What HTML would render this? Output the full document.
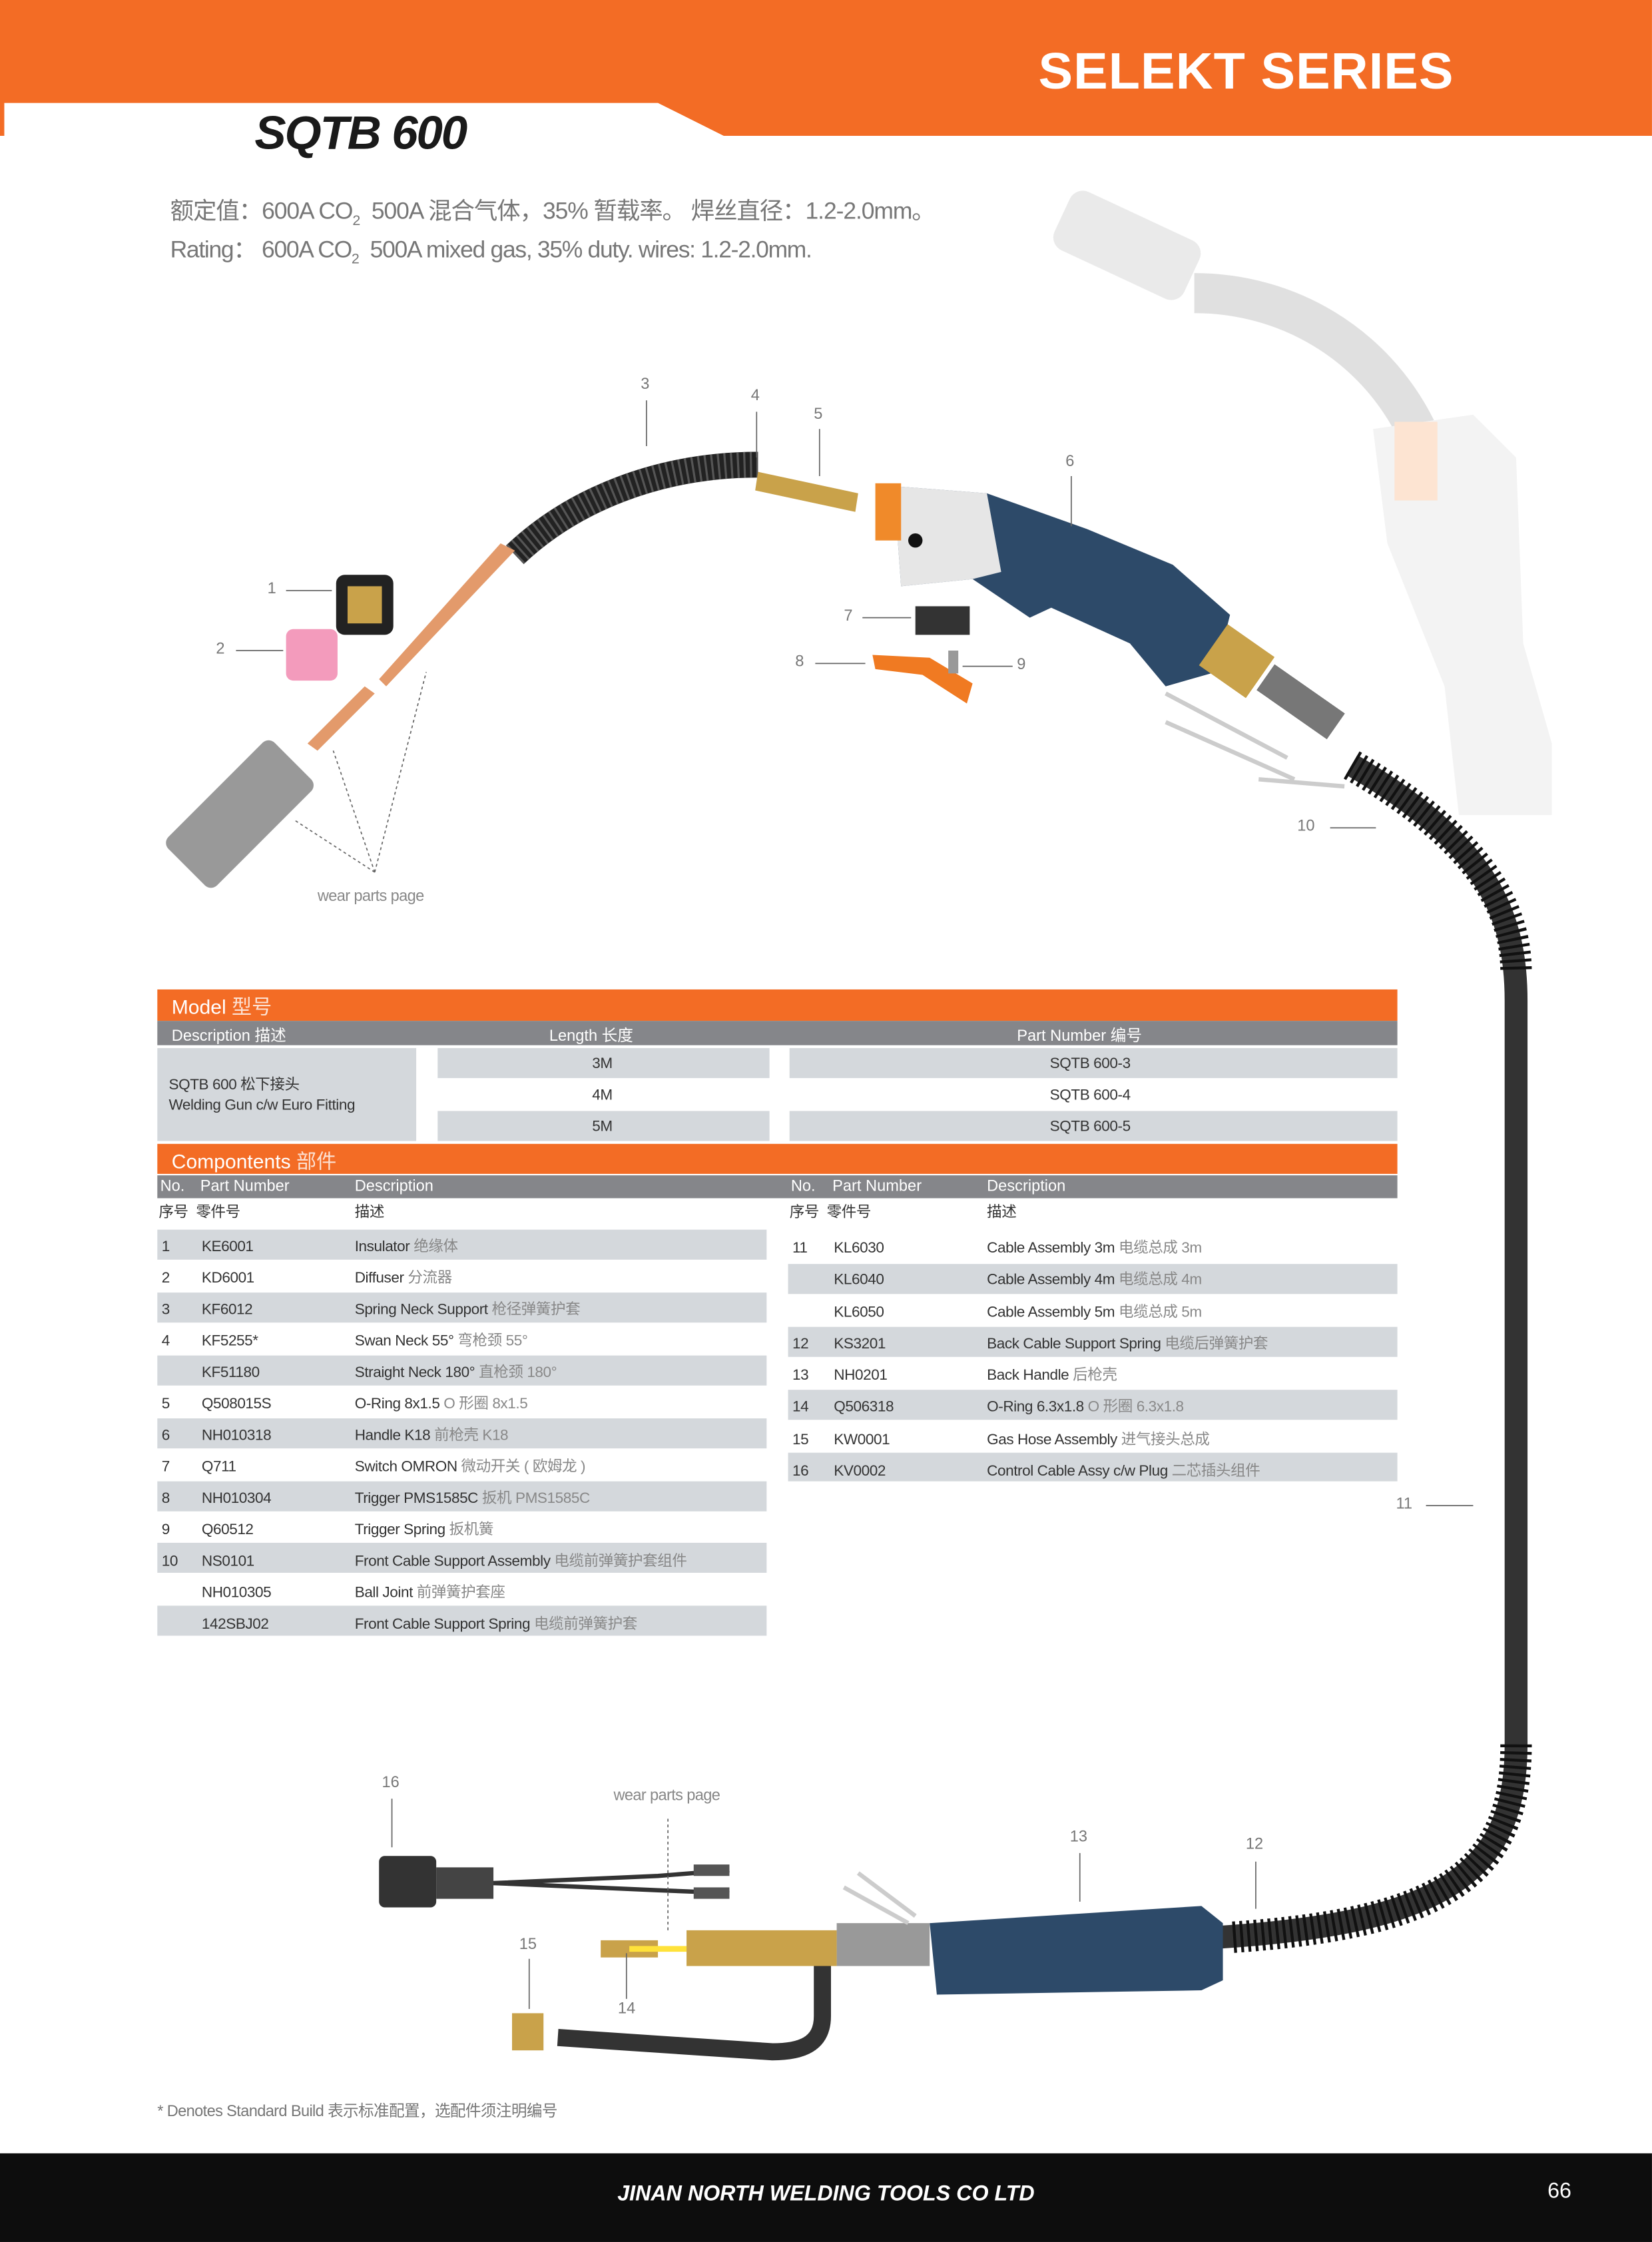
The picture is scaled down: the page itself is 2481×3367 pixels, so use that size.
<!DOCTYPE html>
<html><head><meta charset="utf-8">
<style>
html,body{margin:0;padding:0;background:#fff;}
body{width:2481px;height:3367px;overflow:hidden;position:relative;}
#p{position:absolute;left:0;top:0;width:1155px;height:1568px;transform:scale(2.148,2.1473);transform-origin:0 0;font-family:"Liberation Sans","Noto Sans CJK SC",sans-serif;}
.a{position:absolute;white-space:nowrap;}
.t{font-size:10.5px;color:#333;letter-spacing:-0.2px;}
.g{color:#888;}
.r{position:absolute;height:21px;background:#d4d8dc;}
.hd{position:absolute;background:#85868a;color:#fff;font-size:11px;}
.ob{position:absolute;background:#f36c25;color:#fff;font-size:14px;}
.n{font-size:11px;color:#777;}
</style></head><body><div id="p">
<div style="position:absolute;left:0;top:0;width:1155px;height:95px;background:#f36c25"></div>
<svg class="a" style="left:0;top:0" width="1155" height="96"><polygon points="3,72 460,72 508,96 3,96" fill="#fff"/></svg>
<div class="a" style="left:726px;top:29px;font-size:36px;font-weight:bold;color:#fff;letter-spacing:0.5px">SELEKT SERIES</div>
<div class="a" style="left:178px;top:74px;font-size:33px;font-weight:bold;font-style:italic;color:#1a1a1a;letter-spacing:-1px">SQTB 600</div>
<div class="a" style="left:119px;top:134px;font-size:16.5px;color:#777;letter-spacing:-0.5px">额定值：600A CO<sub style="font-size:10px">2</sub>&nbsp; 500A 混合气体，35% 暂载率。 焊丝直径：1.2-2.0mm。</div>
<div class="a" style="left:119px;top:161px;font-size:16.5px;color:#777;letter-spacing:-0.6px">Rating： 600A CO<sub style="font-size:10px">2</sub>&nbsp; 500A mixed gas, 35% duty. wires: 1.2-2.0mm.</div>

<svg class="a" style="left:0;top:0" width="1155" height="1568">
 <g opacity="0.3">
  <rect x="738" y="150" width="100" height="45" rx="10" fill="#bbb" transform="rotate(25 790 172)"/>
  <path d="M835,205 C900,205 960,240 990,300" stroke="#999" stroke-width="28" fill="none"/>
  <path d="M960,300 L1030,290 L1060,320 L1065,450 L1085,520 L1085,570 L1020,570 L1010,480 L970,380 Z" fill="#d6d6d6"/>
  <rect x="975" y="295" width="30" height="55" fill="#f9a56b"/>
 </g>
 <path d="M360,388 C400,350 460,325 530,325" stroke="#222" stroke-width="18" fill="none"/>
 <path d="M360,388 C400,350 460,325 530,325" stroke="#555" stroke-width="18" stroke-dasharray="1.5 3" fill="none"/>
 <polygon points="530,330 600,345 598,358 528,343" fill="#c9a24a"/>
 <path d="M625,340 L690,345 L760,370 L820,395 L860,430 L850,470 L815,480 L790,450 L735,425 L720,432 L680,405 L630,410 Z" fill="#2d4a69"/>
 <path d="M625,340 L690,345 L700,400 L680,405 L630,410 Z" fill="#e6e6e6"/>
 <rect x="612" y="338" width="18" height="40" fill="#f08a2a"/>
 <circle cx="640" cy="378" r="5" fill="#111"/>
 <rect x="640" y="424" width="38" height="20" fill="#333"/>
 <path d="M610,458 L650,460 L680,478 L676,492 L645,472 L612,468 Z" fill="#f07a22"/>
 <rect x="663" y="455" width="7" height="16" fill="#999"/>
 <rect x="845" y="445" width="40" height="35" fill="#c9a24a" transform="rotate(35 865 462)"/>
 <rect x="880" y="480" width="60" height="22" fill="#777" transform="rotate(35 910 490)"/>
 <path d="M815,485 L900,530 M815,505 L905,545 M880,545 L940,550" stroke="#ccc" stroke-width="3" fill="none"/>
 <path d="M945,535 C1040,590 1060,640 1060,700 L1060,1220 C1060,1310 1010,1345 850,1355" stroke="#333" stroke-width="16" fill="none"/>
 <path d="M945,535 C1040,590 1060,640 1060,680" stroke="#111" stroke-width="22" fill="none" stroke-dasharray="2 3"/>
 <path d="M1060,1220 C1060,1310 1010,1345 860,1355" stroke="#111" stroke-width="22" fill="none" stroke-dasharray="2 3"/>
 <path d="M650,1345 L840,1333 L855,1345 L855,1385 L840,1392 L655,1395 Z" fill="#2d4a69"/>
 <rect x="585" y="1345" width="65" height="30" fill="#999"/>
 <rect x="480" y="1350" width="105" height="25" fill="#c9a24a"/>
 <rect x="420" y="1357" width="40" height="12" fill="#c9a24a"/>
 <path d="M440,1363 L480,1363" stroke="#ffe23a" stroke-width="4"/>
 <path d="M575,1375 L575,1410 C575,1430 560,1435 540,1435 L390,1425" stroke="#333" stroke-width="12" fill="none"/>
 <rect x="358" y="1408" width="22" height="26" fill="#c9a24a"/>
 <rect x="265" y="1298" width="40" height="36" rx="4" fill="#333"/>
 <rect x="305" y="1306" width="40" height="22" fill="#444"/>
 <path d="M345,1317 L460,1312 L510,1308 M345,1317 L460,1322 L510,1324" stroke="#333" stroke-width="3" fill="none"/>
 <rect x="485" y="1304" width="25" height="8" fill="#555"/><rect x="485" y="1320" width="25" height="8" fill="#555"/>
 <path d="M600,1310 L640,1340 M590,1320 L635,1345" stroke="#ccc" stroke-width="3"/>
 <rect x="235" y="402" width="40" height="42" rx="6" fill="#222"/><rect x="243" y="410" width="24" height="26" fill="#c9a24a"/>
 <rect x="200" y="440" width="36" height="36" rx="5" fill="#f39bbc"/>
 <polygon points="265,475 270,480 360,385 350,380" fill="#e39a6b"/>
 <polygon points="215,520 222,525 262,485 255,480" fill="#e39a6b"/>
 <rect x="115" y="545" width="105" height="48" rx="6" fill="#999" transform="rotate(-45 168 569)"/>
 <g stroke="#666" stroke-width="0.8" fill="none">
  <path d="M452,280 V312 M529,288 V320 M573,300 V333 M749,333 V368 M200,413 H232 M165,455 H198 M603,432 H637 M570,464 H605 M673,466 H708 M930,579 H962 M997,1053 H1030 M274,1258 V1292 M755,1296 V1330 M878,1302 V1335 M370,1370 V1405 M438,1366 V1398"/>
  <path d="M262,610 L205,573 M262,610 L233,525 M262,610 L298,470" stroke-dasharray="2 2"/>
  <path d="M467,1272 V1350" stroke-dasharray="2 2"/>
 </g>
</svg>
<div class="a n" style="left:448px;top:263px">3</div>
<div class="a n" style="left:525px;top:271px">4</div>
<div class="a n" style="left:569px;top:284px">5</div>
<div class="a n" style="left:745px;top:317px">6</div>
<div class="a n" style="left:187px;top:406px">1</div>
<div class="a n" style="left:151px;top:448px">2</div>
<div class="a n" style="left:590px;top:425px">7</div>
<div class="a n" style="left:556px;top:457px">8</div>
<div class="a n" style="left:711px;top:459px">9</div>
<div class="a n" style="left:907px;top:572px">10</div>
<div class="a n" style="left:976px;top:1046px">11</div>
<div class="a n" style="left:267px;top:1241px">16</div>
<div class="a n" style="left:748px;top:1279px">13</div>
<div class="a n" style="left:871px;top:1284px">12</div>
<div class="a n" style="left:363px;top:1354px">15</div>
<div class="a n" style="left:432px;top:1399px">14</div>
<div class="a" style="left:222px;top:621px;font-size:11px;color:#888;letter-spacing:-0.3px">wear parts page</div>
<div class="a" style="left:429px;top:1250px;font-size:11px;color:#888;letter-spacing:-0.3px">wear parts page</div>

<div class="ob" style="left:110px;top:692px;width:867px;height:22px"><span style="position:absolute;left:10px;top:2px">Model <span style="opacity:.8">型号</span></span></div>
<div class="hd" style="left:110px;top:714px;width:867px;height:17px">
 <span class="a" style="left:10px;top:2px">Description 描述</span>
 <span class="a" style="left:274px;top:2px">Length 长度</span>
 <span class="a" style="left:601px;top:2px">Part Number 编号</span></div>
<div class="r" style="left:110px;top:733px;width:181px;height:65px"></div>
<div class="a t" style="left:118px;top:752px;line-height:14px">SQTB 600 松下接头<br>Welding Gun c/w Euro Fitting</div>
<div class="r" style="left:306px;top:733px;width:232px"></div>
<div class="r" style="left:552px;top:733px;width:425px"></div>
<div class="r" style="left:306px;top:777px;width:232px"></div>
<div class="r" style="left:552px;top:777px;width:425px"></div>
<div class="a t" style="left:414px;top:738px">3M</div><div class="a t" style="left:734px;top:738px">SQTB 600-3</div>
<div class="a t" style="left:414px;top:760px">4M</div><div class="a t" style="left:734px;top:760px">SQTB 600-4</div>
<div class="a t" style="left:414px;top:782px">5M</div><div class="a t" style="left:734px;top:782px">SQTB 600-5</div>

<div class="ob" style="left:110px;top:800px;width:867px;height:21px"><span style="position:absolute;left:10px;top:2px">Compontents <span style="opacity:.8">部件</span></span></div>
<div class="hd" style="left:110px;top:822px;width:867px;height:16px">
 <span class="a" style="left:2px;top:2px">No.</span><span class="a" style="left:30px;top:2px">Part Number</span><span class="a" style="left:138px;top:2px">Description</span>
 <span class="a" style="left:443px;top:2px">No.</span><span class="a" style="left:472px;top:2px">Part Number</span><span class="a" style="left:580px;top:2px">Description</span></div>
<div class="a t" style="left:111px;top:840px">序号 &nbsp;零件号</div><div class="a t" style="left:248px;top:840px">描述</div>
<div class="a t" style="left:552px;top:840px">序号 &nbsp;零件号</div><div class="a t" style="left:690px;top:840px">描述</div>

<div class="r" style="left:110px;top:860px;width:426px"></div>
<div class="r" style="left:110px;top:904px;width:426px"></div>
<div class="r" style="left:110px;top:948px;width:426px"></div>
<div class="r" style="left:110px;top:992px;width:426px"></div>
<div class="r" style="left:110px;top:1036px;width:426px"></div>
<div class="r" style="left:110px;top:1079px;width:426px"></div>
<div class="r" style="left:110px;top:1123px;width:426px"></div>
<div class="r" style="left:551px;top:884px;width:426px"></div>
<div class="r" style="left:551px;top:928px;width:426px"></div>
<div class="r" style="left:551px;top:972px;width:426px"></div>
<div class="r" style="left:551px;top:1016px;width:426px;height:20px"></div>

<div class="a t" style="left:113px;top:861px;line-height:22px">1<br>2<br>3<br>4<br><br>5<br>6<br>7<br>8<br>9<br>10</div>
<div class="a t" style="left:141px;top:861px;line-height:22px">KE6001<br>KD6001<br>KF6012<br>KF5255*<br>KF51180<br>Q508015S<br>NH010318<br>Q711<br>NH010304<br>Q60512<br>NS0101<br>NH010305<br>142SBJ02</div>
<div class="a t" style="left:248px;top:861px;line-height:22px">Insulator <span class="g">绝缘体</span><br>Diffuser <span class="g">分流器</span><br>Spring Neck Support <span class="g">枪径弹簧护套</span><br>Swan Neck 55° <span class="g">弯枪颈 55°</span><br>Straight Neck 180° <span class="g">直枪颈 180°</span><br>O-Ring 8x1.5 <span class="g">O 形圈 8x1.5</span><br>Handle K18 <span class="g">前枪壳 K18</span><br>Switch OMRON <span class="g">微动开关 ( 欧姆龙 )</span><br>Trigger PMS1585C <span class="g">扳机 PMS1585C</span><br>Trigger Spring <span class="g">扳机簧</span><br>Front Cable Support Assembly <span class="g">电缆前弹簧护套组件</span><br>Ball Joint <span class="g">前弹簧护套座</span><br>Front Cable Support Spring <span class="g">电缆前弹簧护套</span></div>

<div class="a t" style="left:554px;top:862px;line-height:22.3px">11<br><br><br>12<br>13<br>14<br>15<br>16</div>
<div class="a t" style="left:583px;top:862px;line-height:22.3px">KL6030<br>KL6040<br>KL6050<br>KS3201<br>NH0201<br>Q506318<br>KW0001<br>KV0002</div>
<div class="a t" style="left:690px;top:862px;line-height:22.3px">Cable Assembly 3m <span class="g">电缆总成 3m</span><br>Cable Assembly 4m <span class="g">电缆总成 4m</span><br>Cable Assembly 5m <span class="g">电缆总成 5m</span><br>Back Cable Support Spring <span class="g">电缆后弹簧护套</span><br>Back Handle <span class="g">后枪壳</span><br>O-Ring 6.3x1.8 <span class="g">O 形圈 6.3x1.8</span><br>Gas Hose Assembly <span class="g">进气接头总成</span><br>Control Cable Assy c/w Plug <span class="g">二芯插头组件</span></div>

<div class="a" style="left:110px;top:1468px;font-size:11px;color:#777;letter-spacing:-0.3px">* Denotes Standard Build 表示标准配置，选配件须注明编号</div>

<div style="position:absolute;left:0;top:1506px;width:1155px;height:62px;background:#0d0d0d"></div>
<div class="a" style="left:0;width:1155px;top:1526px;text-align:center;font-size:15px;font-weight:bold;font-style:italic;color:#fff">JINAN NORTH WELDING TOOLS CO LTD</div>
<div class="a" style="left:1082px;top:1524px;font-size:15px;color:#fff">66</div>
</div></body></html>
